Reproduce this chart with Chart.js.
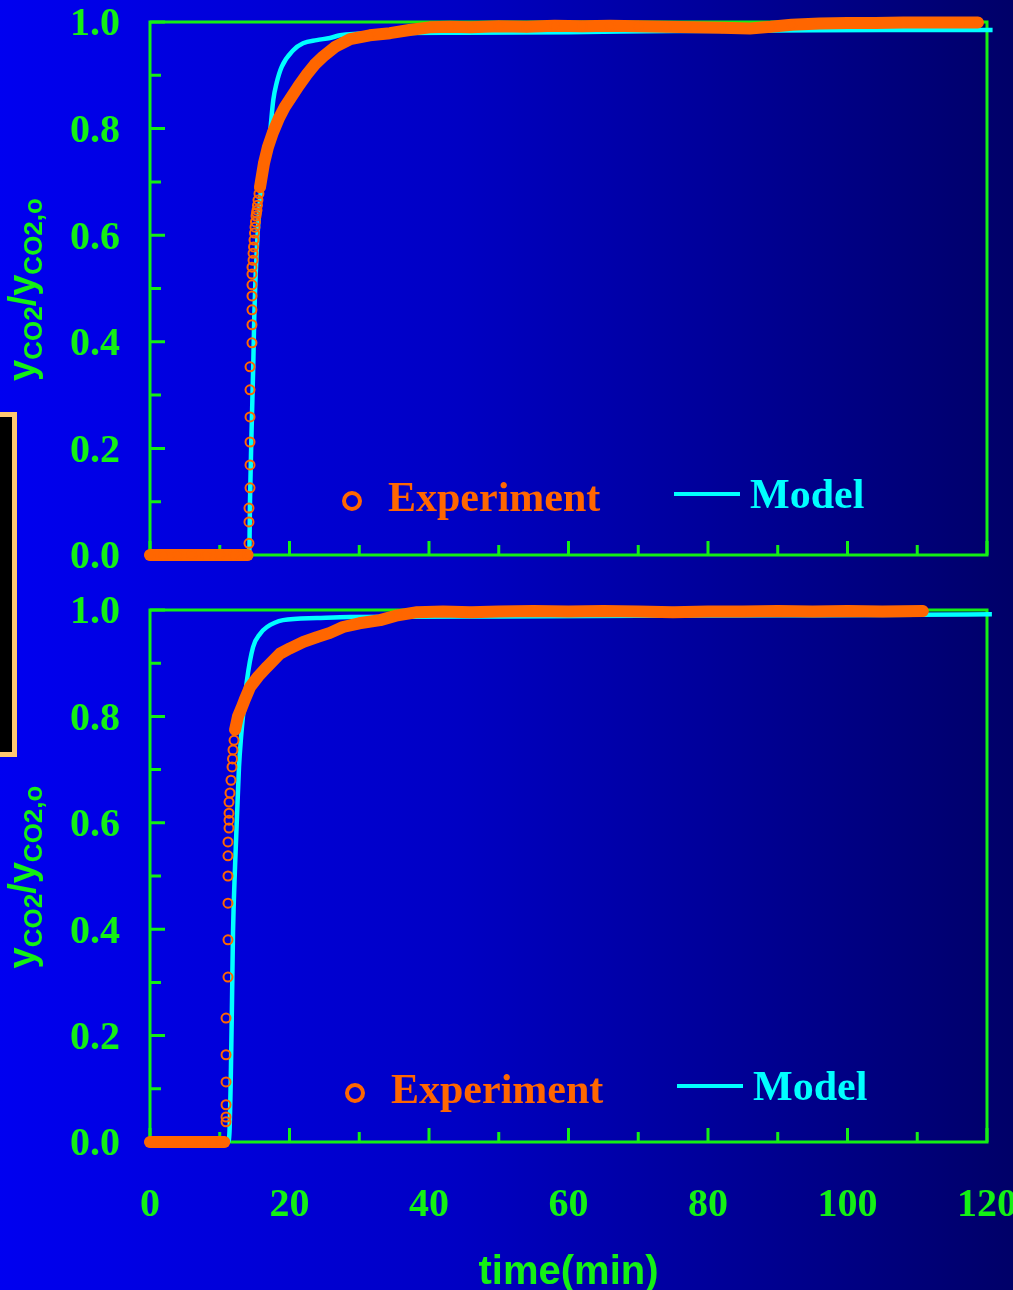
<!DOCTYPE html>
<html>
<head>
<meta charset="utf-8">
<script src="https://cdn.jsdelivr.net/npm/chart.js@4.4.0/dist/chart.umd.min.js"></script>
<style>
  html, body { margin: 0; padding: 0; }
  body {
    width: 1013px; height: 1290px; overflow: hidden; position: relative;
    background: linear-gradient(to right, #0000f0 0%, #0000c4 45%, #000068 100%);
  }
  .panel { position: absolute; left: 0; width: 1013px; }
  #topPanel { top: 0; height: 580px; }
  #botPanel { top: 580px; height: 710px; }
  #tab {
    position: absolute; left: -20px; top: 412px; width: 37px; height: 345px;
    box-sizing: border-box; background: #000; border: 5px solid #ffc870;
  }
</style>
</head>
<body>
<div id="tab"></div>
<div class="panel" id="topPanel"><canvas id="chartTop" width="1013" height="580"></canvas></div>
<div class="panel" id="botPanel"><canvas id="chartBot" width="1013" height="710"></canvas></div>
<script>
// breakthrough curves, time in min, normalised CO2 fraction

// upper run
var expTopT = [0, 2, 4, 6, 8, 10, 12, 13, 14.0,
  14.19, 14.19, 14.19, 14.34, 14.34, 14.34, 14.34, 14.34, 14.34,
  14.62, 14.62, 14.62, 14.62, 14.62, 14.62, 14.62,
  14.77, 14.77, 14.84, 14.91, 14.98, 15.05, 15.12, 15.2, 15.27, 15.34, 15.41, 15.48, 15.62, 15.77,
  16.34, 16.9, 17.6, 18.5, 19.3, 20.1, 21.3, 22.5, 23.6, 24.8, 26.5, 28.7, 31.5, 34.4, 37.2, 40.1,
  43, 46, 50, 54, 58, 62, 66, 70, 74, 78, 82, 86, 89, 92, 96, 100, 104, 108, 112, 116, 118.7];
var expTopV = [0, 0, 0, 0, 0, 0, 0, 0, 0,
  0.022, 0.062, 0.088, 0.126, 0.169, 0.212, 0.259, 0.31, 0.353,
  0.398, 0.432, 0.46, 0.486, 0.507, 0.527, 0.54,
  0.553, 0.566, 0.578, 0.591, 0.604, 0.615, 0.625, 0.636, 0.642, 0.647, 0.656, 0.666, 0.678, 0.69,
  0.735, 0.765, 0.792, 0.82, 0.84, 0.856, 0.88, 0.902, 0.92, 0.935, 0.953, 0.968, 0.975, 0.979, 0.985, 0.99,
  0.991, 0.99, 0.992, 0.991, 0.993, 0.992, 0.993, 0.992, 0.991, 0.99, 0.989, 0.988, 0.991, 0.995, 0.997, 0.998, 0.998, 0.999, 0.999, 0.999, 0.999];
var modelTopT = [0, 14.05, 14.24, 14.34, 14.52, 14.81, 14.95, 15.3, 15.77, 16.3, 16.85, 17.2, 17.68, 18.16, 18.88,
  20.54, 21.94, 23.9, 25.8, 27.24, 32, 45, 60, 75, 90, 105, 120.8];
var modelTopV = [0, 0, 0.009, 0.103, 0.21, 0.36, 0.447, 0.572, 0.666, 0.722, 0.76, 0.792, 0.854, 0.886, 0.916,
  0.947, 0.96, 0.966, 0.97, 0.975, 0.979, 0.98, 0.981, 0.983, 0.984, 0.985, 0.985];

// lower run
var expBotT = [0, 2, 4, 6, 8, 9, 10.65,
  10.9, 10.9, 10.9, 10.9, 10.9, 10.9,
  11.18, 11.18, 11.18, 11.18, 11.18, 11.18,
  11.33, 11.33, 11.33, 11.33,
  11.47, 11.61, 11.76, 11.83, 11.9, 12.05, 12.2,
  12.62, 13.1, 13.6, 14.34, 15.5, 16.77, 18.64, 20.07, 22, 23.94, 25.8, 27.67, 30, 33, 35.5, 38.28,
  42, 46, 50, 55, 60, 65, 70, 75, 80, 85, 90, 95, 100, 105, 110.8];
var expBotV = [0, 0, 0, 0, 0, 0, 0,
  0.038, 0.047, 0.07, 0.113, 0.164, 0.233,
  0.31, 0.38, 0.449, 0.5, 0.538, 0.564,
  0.59, 0.605, 0.618, 0.639,
  0.656, 0.68, 0.705, 0.72, 0.737, 0.755, 0.775,
  0.8, 0.815, 0.832, 0.855, 0.875, 0.893, 0.918, 0.928, 0.94, 0.949, 0.957, 0.968, 0.975, 0.981, 0.99, 0.996,
  0.997, 0.996, 0.997, 0.998, 0.997, 0.998, 0.997, 0.996, 0.997, 0.997, 0.998, 0.997, 0.998, 0.997, 0.998];
var modelBotT = [0, 11.18, 11.4, 11.61, 11.76, 11.9, 12.19, 12.47, 12.76, 13.05, 13.33, 13.9, 14.77, 15.77, 16.77,
  19.07, 23.94, 28.67, 50, 70, 90, 110, 120.7];
var modelBotV = [0, 0, 0.02, 0.141, 0.267, 0.393, 0.517, 0.611, 0.705, 0.76, 0.80, 0.868, 0.93, 0.955, 0.968,
  0.981, 0.985, 0.987, 0.988, 0.989, 0.99, 0.991, 0.992];

var xTicks = [0, 20, 40, 60, 80, 100, 120];
var yTicks = [0, 0.2, 0.4, 0.6, 0.8, 1.0];
var seriesNames = ['Experiment', 'Model'];

var GREEN = '#14f014';
var ORANGE = '#ff6600';
var CYAN = '#00ffff';
var SERIF = "'Liberation Serif', 'Times New Roman', serif";
var SANS = "'Liberation Sans', Arial, sans-serif";

function pairs(t, v) {
  return t.map(function (x, i) { return { x: x, y: v[i] }; });
}

// green box with inward tick marks (minor every 0.1 / 10 min)
var framePlugin = {
  id: 'frame',
  beforeDatasetsDraw: function (chart) {
    var a = chart.chartArea, xs = chart.scales.x, ys = chart.scales.y, c = chart.ctx;
    c.save();
    c.strokeStyle = GREEN;
    c.lineWidth = 3;
    c.strokeRect(a.left, a.top, a.right - a.left, a.bottom - a.top);
    c.beginPath();
    for (var k = 0; k <= 10; k++) {
      var py = ys.getPixelForValue(k / 10);
      c.moveTo(a.left, py);
      c.lineTo(a.left + (k % 2 ? 11 : 15), py);
    }
    for (var m = 0; m <= 12; m++) {
      var px = xs.getPixelForValue(m * 10);
      c.moveTo(px, a.bottom);
      c.lineTo(px, a.bottom - (m % 2 ? 10 : 14));
    }
    c.stroke();
    c.restore();
  }
};

// legend inside the plot and the rotated y title with subscripts
var labelsPlugin = {
  id: 'labels',
  afterDraw: function (chart, args, o) {
    var c = chart.ctx, a = chart.chartArea;
    c.save();
    // legend
    c.strokeStyle = ORANGE;
    c.lineWidth = 4;
    c.beginPath();
    c.arc(o.x, o.y, 8, 0, 2 * Math.PI);
    c.stroke();
    c.font = 'bold 42px ' + SERIF;
    c.textBaseline = 'alphabetic';
    c.fillStyle = ORANGE;
    c.fillText(seriesNames[0], o.x + 36, o.y + 10);
    c.strokeStyle = CYAN;
    c.lineWidth = 4;
    c.beginPath();
    c.moveTo(o.x + 322, o.y - 7);
    c.lineTo(o.x + 388, o.y - 7);
    c.stroke();
    c.fillStyle = CYAN;
    c.fillText(seriesNames[1], o.x + 398, o.y + 7);

    // y title
    var big = 'bold 38px ' + SANS, small = 'bold 26px ' + SANS;
    var parts = [['y', big, 0], ['CO2', small, 7], ['/', big, 0], ['y', big, 0], ['CO2,o', small, 7]];
    var total = 0;
    parts.forEach(function (p) { c.font = p[1]; total += c.measureText(p[0]).width; });
    c.translate(35, (a.top + a.bottom) / 2 + 1);
    c.rotate(-Math.PI / 2);
    c.fillStyle = GREEN;
    var x = -total / 2;
    parts.forEach(function (p) {
      c.font = p[1];
      c.fillText(p[0], x, p[2]);
      x += c.measureText(p[0]).width;
    });
    c.restore();
  }
};

function makeChart(id, exp, model, lower, legendAt) {
  return new Chart(document.getElementById(id), {
    type: 'line',
    data: {
      datasets: [{
        label: seriesNames[0],
        data: exp,
        borderColor: ORANGE,
        borderWidth: 12,
        borderCapStyle: 'round',
        borderJoinStyle: 'round',
        tension: 0,
        pointRadius: 4.5,
        pointBorderWidth: 2,
        pointBorderColor: ORANGE,
        pointBackgroundColor: 'transparent',
        clip: false,
        // tightly spaced samples on the steep front stay as single circles
        segment: {
          borderColor: function (ctx) {
            return Math.abs(ctx.p1.x - ctx.p0.x) < 2.5 ? 'transparent' : undefined;
          }
        }
      }, {
        label: seriesNames[1],
        data: model,
        borderColor: CYAN,
        borderWidth: 4.5,
        pointRadius: 0,
        cubicInterpolationMode: 'monotone',
        clip: false
      }]
    },
    options: {
      responsive: false,
      animation: false,
      events: [],
      layout: { padding: { left: 0, right: 26, top: lower ? 30 : 22, bottom: 0 } },
      plugins: {
        legend: { display: false },
        tooltip: { enabled: false },
        labels: legendAt
      },
      scales: {
        x: {
          type: 'linear',
          min: 0, max: 120,
          grid: { display: false, drawTicks: false },
          border: { display: false },
          afterBuildTicks: function (s) { s.ticks = xTicks.map(function (v) { return { value: v }; }); },
          ticks: {
            display: lower,
            padding: 44,
            color: GREEN,
            maxRotation: 0,
            autoSkip: false,
            font: { family: SERIF, weight: 'bold', size: 40, lineHeight: 1 }
          },
          title: {
            display: lower,
            text: 'time(min)',
            color: GREEN,
            font: { family: SANS, weight: 'bold', size: 40, lineHeight: 1 },
            padding: { top: 0, bottom: -3 }
          },
          afterFit: function (s) {
            s.height = lower ? 148 : 25;
            s.paddingLeft = 0;
            s.paddingRight = 0;
          }
        },
        y: {
          min: 0, max: 1,
          grid: { display: false, drawTicks: false },
          border: { display: false },
          afterBuildTicks: function (s) { s.ticks = yTicks.map(function (v) { return { value: v }; }); },
          ticks: {
            padding: 30,
            labelOffset: 3,
            color: GREEN,
            font: { family: SERIF, weight: 'bold', size: 40, lineHeight: 1 },
            callback: function (v) { return v.toFixed(1); }
          },
          afterFit: function (s) {
            s.width = 150;
            s.paddingTop = 0;
            s.paddingBottom = 0;
          }
        }
      }
    },
    plugins: [framePlugin, labelsPlugin]
  });
}

makeChart('chartTop', pairs(expTopT, expTopV), pairs(modelTopT, modelTopV), false, { x: 352, y: 501 });
makeChart('chartBot', pairs(expBotT, expBotV), pairs(modelBotT, modelBotV), true, { x: 355, y: 513 });
</script>
</body>
</html>
